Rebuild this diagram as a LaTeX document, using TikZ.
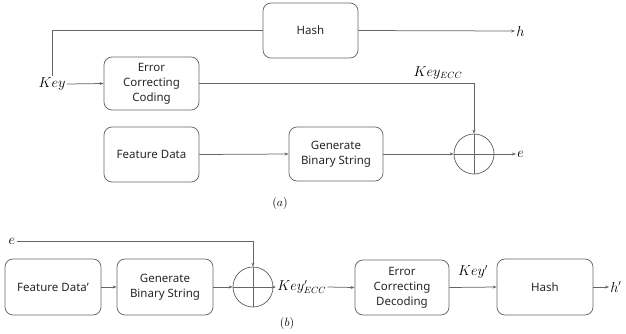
\documentclass[tikz,border=0pt]{standalone}
\usepackage{fontspec}
\setmainfont{Noto Sans}
\usetikzlibrary{arrows.meta}
\begin{document}
\begin{tikzpicture}[x=1pt,y=-1pt,
  line width=0.75pt,
  every node/.style={text=black!85},
  box/.style={draw=black!60, rounded corners=8pt, minimum width=95pt,
    minimum height=55pt, align=center, inner sep=2pt,
    font=\fontsize{11.5}{15}\selectfont},
  lbl/.style={font=\fontsize{13.5}{15}\selectfont, inner sep=1pt, text=black},
  figcap/.style={font=\fontsize{12.5}{14}\selectfont, text=black},
  wire/.style={draw=black!60},
  arr/.style={wire, -{Stealth[length=4pt,width=3pt]}},
  xorc/.style={circle, draw=black!60, minimum size=40pt, inner sep=0pt}]
\useasboundingbox (0,0) rectangle (626,333);

% ---- (a) enrolment ----
\node[box] (hashA) at (310.5,30.5) {Hash};
\node[box, minimum height=53pt] (ecc) at (151.5,83.5) {Error\\Correcting\\Coding};
\node[box] (feat) at (151.5,154.5) {Feature Data};
\node[box, minimum width=94pt, minimum height=54pt] (gbs) at (336,154) {Generate\\Binary String};
\node[xorc] (xorA) at (474,154) {};
\draw[wire] (xorA.north) -- (xorA.south) (xorA.west) -- (xorA.east);

\node[lbl] (key) at (52,84) {$Key$};
\node[lbl, anchor=west] (h) at (515,31) {$h$};
\node[lbl, anchor=west] (e) at (516,154) {$e$};
\node[lbl] (keyecc) at (438,73) {$Key_{ECC}$};

\draw[wire] (key.north) |- (hashA.west);
\draw[arr] (key.east) -- (ecc.west);
\draw[arr] (hashA.east) -- (h.west);
\draw[arr] (ecc.east) -| (xorA.north);
\draw[arr] (feat.east) -- (gbs.west);
\draw[arr] (gbs.east) -- (xorA.west);
\draw[arr] (xorA.east) -- (e.west);
\node[figcap] (capA) at (280,203) {$(a)$};

% ---- (b) reproduction ----
\node[lbl] (e2) at (12,241) {$e$};
\node[box, minimum width=96pt, minimum height=56pt] (feat2) at (53,287) {Feature Data'};
\node[box, minimum width=96pt, minimum height=56pt] (gbs2) at (165,287) {Generate\\Binary String};
\node[xorc] (xorB) at (253,287) {};
\draw[wire] (xorB.north) -- (xorB.south) (xorB.west) -- (xorB.east);
\node[lbl, anchor=west] (keyecc2) at (276,287) {$Key'_{ECC}$};
\node[box, minimum width=94pt] (ecd) at (402,287.5) {Error\\Correcting\\Decoding};
\node[lbl] (keyp) at (473,272) {$Key'$};
\node[box, minimum width=96pt, minimum height=56pt] (hashB) at (545,287) {Hash};
\node[lbl, anchor=west] (h2) at (609,287) {$h'$};

\draw[arr] (e2.east) -| (xorB.north);
\draw[arr] (feat2.east) -- (gbs2.west);
\draw[arr] (gbs2.east) -- (xorB.west);
\draw[arr] (xorB.east) -- (keyecc2.west);
\draw[arr] (keyecc2.east) -- (ecd.west);
\draw[arr] (ecd.east) -- (hashB.west);
\draw[arr] (hashB.east) -- (h2.west);
\node[figcap] (capB) at (287,323) {$(b)$};
\end{tikzpicture}
\end{document}
